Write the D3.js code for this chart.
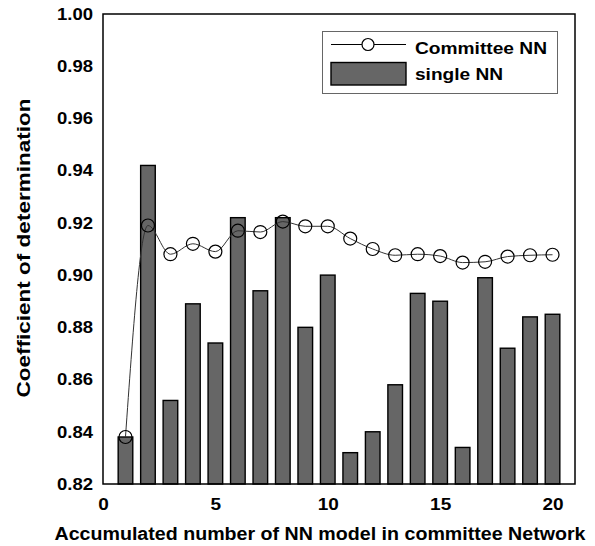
<!DOCTYPE html>
<html>
<head>
<meta charset="utf-8">
<script src="https://cdn.jsdelivr.net/npm/d3@7"></script>
<style>
  html, body { margin: 0; padding: 0; background: #fff; }
  svg { display: block; }
  text { font-family: "Liberation Sans", Arial, sans-serif; font-weight: bold; fill: #000; }
</style>
</head>
<body>
<svg id="chart" width="595" height="546"></svg>
<script>
// Number of networks accumulated in the committee
const models = [1, 2, 3, 4, 5, 6, 7, 8, 9, 10, 11, 12, 13, 14, 15, 16, 17, 18, 19, 20];
// R² of each individual network
const singleNN = [0.838, 0.942, 0.852, 0.889, 0.874, 0.922, 0.894, 0.922, 0.880, 0.900,
                  0.832, 0.840, 0.858, 0.893, 0.890, 0.834, 0.899, 0.872, 0.884, 0.885];
// R² of the committee built from the first n networks
const committeeNN = [0.838, 0.919, 0.908, 0.912, 0.909, 0.917, 0.9165, 0.9205, 0.9187, 0.9187,
                     0.914, 0.910, 0.9076, 0.908, 0.9073, 0.9048, 0.9051, 0.9071, 0.9076, 0.9078];
const xTicks = [0, 5, 10, 15, 20];
const yTicks = [0.82, 0.84, 0.86, 0.88, 0.90, 0.92, 0.94, 0.96, 0.98, 1.00];

const svg = d3.select("#chart");
const plot = { left: 103, right: 575, top: 14, bottom: 484 };

const x = d3.scaleLinear().domain([0, 21]).range([plot.left, plot.right]);
const y = d3.scaleLinear().domain([0.82, 1.00]).range([plot.bottom, plot.top]);
const barW = (x(1) - x(0)) * 0.65;

// Widen a text horizontally (the chart's lettering is broad)
function widen(sel, factor) {
  sel.each(function () {
    const w = this.getComputedTextLength();
    d3.select(this).attr("textLength", w * factor).attr("lengthAdjust", "spacingAndGlyphs");
  });
}
function fitTo(sel, width) {
  sel.attr("textLength", width).attr("lengthAdjust", "spacingAndGlyphs");
}

// Bars: single networks
svg.append("g").selectAll("rect")
  .data(models)
  .join("rect")
  .attr("x", (d) => x(d) - barW / 2)
  .attr("y", (d, i) => y(singleNN[i]))
  .attr("width", barW)
  .attr("height", (d, i) => y(0.82) - y(singleNN[i]))
  .attr("fill", "#666666")
  .attr("stroke", "#000")
  .attr("stroke-width", 1.4);

// Smoothed committee line with hollow markers
const pts = models.map((d, i) => [d, committeeNN[i]]);
svg.append("path")
  .datum(pts)
  .attr("fill", "none")
  .attr("stroke", "#333")
  .attr("stroke-width", 1)
  .attr("d", d3.line().x((d) => x(d[0])).y((d) => y(d[1])).curve(d3.curveMonotoneX));

svg.append("g").selectAll("circle")
  .data(pts)
  .join("circle")
  .attr("cx", (d) => x(d[0]))
  .attr("cy", (d) => y(d[1]))
  .attr("r", 6.5)
  .attr("fill", "none")
  .attr("stroke", "#000")
  .attr("stroke-width", 1.2);

// Plot frame
svg.append("rect")
  .attr("x", plot.left).attr("y", plot.top)
  .attr("width", plot.right - plot.left).attr("height", plot.bottom - plot.top)
  .attr("fill", "none").attr("stroke", "#000").attr("stroke-width", 1.5);

// Axes (labels only, no tick marks)
const yAxis = svg.append("g")
  .attr("transform", `translate(${plot.left},0)`)
  .call(d3.axisLeft(y).tickValues(yTicks).tickFormat(d3.format(".2f")).tickSize(0).tickPadding(10));
yAxis.select(".domain").remove();
yAxis.selectAll("text")
  .attr("font-size", 16.5).attr("font-family", "Liberation Sans, Arial, sans-serif")
  .attr("font-weight", "bold").attr("fill", "#000")
  .call(widen, 1.12);

const xAxis = svg.append("g")
  .attr("transform", `translate(0,${plot.bottom})`)
  .call(d3.axisBottom(x).tickValues(xTicks).tickFormat(d3.format("d")).tickSize(0).tickPadding(14));
xAxis.select(".domain").remove();
xAxis.selectAll("text")
  .attr("font-size", 16.5).attr("font-family", "Liberation Sans, Arial, sans-serif")
  .attr("font-weight", "bold").attr("fill", "#000")
  .call(widen, 1.15);

// Axis titles
svg.append("text")
  .attr("x", 320).attr("y", 540)
  .attr("text-anchor", "middle")
  .attr("font-size", 18)
  .text("Accumulated number of NN model in committee Network")
  .call(fitTo, 531);

svg.append("text")
  .attr("transform", "translate(30,248) rotate(-90)")
  .attr("text-anchor", "middle")
  .attr("font-size", 18.5)
  .text("Coefficient of determination")
  .call(fitTo, 299);

// Legend
const lg = svg.append("g");
lg.append("rect")
  .attr("x", 322.5).attr("y", 31.5).attr("width", 235).attr("height", 62)
  .attr("fill", "#fff").attr("stroke", "#666").attr("stroke-width", 1);
lg.append("line")
  .attr("x1", 331).attr("x2", 406).attr("y1", 44.5).attr("y2", 44.5)
  .attr("stroke", "#000").attr("stroke-width", 1);
lg.append("circle")
  .attr("cx", 368).attr("cy", 44.5).attr("r", 6)
  .attr("fill", "#fff").attr("stroke", "#000").attr("stroke-width", 1.2);
lg.append("text").attr("x", 415).attr("y", 54).attr("font-size", 16).text("Committee NN").call(fitTo, 132);
lg.append("rect")
  .attr("x", 331).attr("y", 62.5).attr("width", 75).attr("height", 22.5)
  .attr("fill", "#666666").attr("stroke", "#000").attr("stroke-width", 1.4);
lg.append("text").attr("x", 415).attr("y", 80).attr("font-size", 16).text("single NN").call(fitTo, 88);
</script>
</body>
</html>
